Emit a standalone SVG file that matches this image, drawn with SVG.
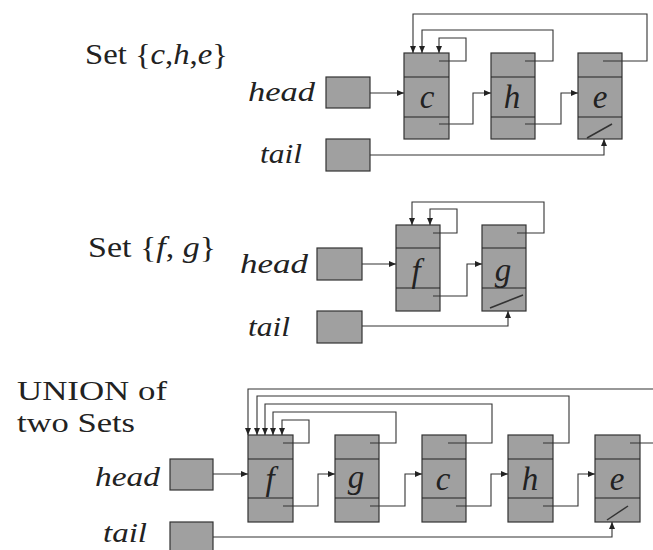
<svg xmlns="http://www.w3.org/2000/svg" width="653" height="550" viewBox="0 0 653 550">
<defs>
<marker id="ah" markerUnits="userSpaceOnUse" markerWidth="7" markerHeight="7" refX="7" refY="3.5" orient="auto">
<path d="M0,0.5 L7,3.5 L0,6.5 Z" fill="#222"/>
</marker>
</defs>
<style>
.lbl{font-family:"Liberation Serif","Times New Roman",serif;font-size:29px;fill:#222}
.un{font-family:"Liberation Serif","Times New Roman",serif;font-size:27px;fill:#222}
.it{font-family:"Liberation Serif","Times New Roman",serif;font-style:italic;font-size:28px;fill:#222}
.ltr{font-family:"Liberation Serif","Times New Roman",serif;font-style:italic;font-size:33px;fill:#222;text-anchor:middle}
.box{fill:#a0a0a0;stroke:#333;stroke-width:1.2}
.div{stroke:#222;stroke-width:1.2}
.sl{stroke:#333;stroke-width:1.5}
.con path{fill:none;stroke:#333;stroke-width:1.1}
.arr{marker-end:url(#ah)}
</style>
<rect width="653" height="550" fill="#fff"/>

<!-- labels -->
<g id="labels">
<text class="lbl" x="85" y="64" textLength="143" lengthAdjust="spacingAndGlyphs">Set {<tspan font-style="italic">c</tspan>,<tspan font-style="italic">h</tspan>,<tspan font-style="italic">e</tspan>}</text>
<text class="lbl" x="88" y="257" textLength="128" lengthAdjust="spacingAndGlyphs">Set {<tspan font-style="italic">f</tspan>, <tspan font-style="italic">g</tspan>}</text>
<text class="un" x="17" y="400" textLength="150" lengthAdjust="spacingAndGlyphs">UNION of</text>
<text class="un" x="17" y="432" textLength="118" lengthAdjust="spacingAndGlyphs">two Sets</text>
<text class="it" x="248" y="101" textLength="67" lengthAdjust="spacingAndGlyphs">head</text>
<text class="it" x="260" y="163" textLength="42" lengthAdjust="spacingAndGlyphs">tail</text>
<text class="it" x="240" y="273" textLength="68" lengthAdjust="spacingAndGlyphs">head</text>
<text class="it" x="248" y="336" textLength="42" lengthAdjust="spacingAndGlyphs">tail</text>
<text class="it" x="95" y="486" textLength="65" lengthAdjust="spacingAndGlyphs">head</text>
<text class="it" x="103" y="542" font-size="26" textLength="44" lengthAdjust="spacingAndGlyphs">tail</text>
</g>

<!-- set 1 -->
<g id="s1-head"><rect class="box" x="326" y="77" width="44" height="31"/></g>
<g id="s1-tail"><rect class="box" x="326" y="139" width="44" height="32"/></g>
<g id="s1-c"><rect class="box" x="404" y="53" width="45" height="86"/><line class="div" x1="404" y1="77" x2="449" y2="77"/><line class="div" x1="404" y1="117" x2="449" y2="117"/><text class="ltr" x="427" y="108">c</text></g>
<g id="s1-h"><rect class="box" x="491" y="53" width="44" height="86"/><line class="div" x1="491" y1="77" x2="535" y2="77"/><line class="div" x1="491" y1="117" x2="535" y2="117"/><text class="ltr" x="512" y="108">h</text></g>
<g id="s1-e"><rect class="box" x="578" y="53" width="44" height="86"/><line class="div" x1="578" y1="77" x2="622" y2="77"/><line class="div" x1="578" y1="117" x2="622" y2="117"/><text class="ltr" x="600" y="108">e</text><line class="sl" x1="587" y1="138" x2="612" y2="124"/></g>

<!-- set 2 -->
<g id="s2-head"><rect class="box" x="317" y="248" width="45" height="32"/></g>
<g id="s2-tail"><rect class="box" x="317" y="311" width="45" height="32"/></g>
<g id="s2-f"><rect class="box" x="396" y="225" width="44" height="86"/><line class="div" x1="396" y1="248" x2="440" y2="248"/><line class="div" x1="396" y1="288" x2="440" y2="288"/><text class="ltr" x="416" y="282">f</text></g>
<g id="s2-g"><rect class="box" x="482" y="225" width="44" height="86"/><line class="div" x1="482" y1="248" x2="526" y2="248"/><line class="div" x1="482" y1="288" x2="526" y2="288"/><text class="ltr" x="503" y="281">g</text><line class="sl" x1="490" y1="308" x2="523" y2="295"/></g>

<!-- union -->
<g id="u-head"><rect class="box" x="170" y="459" width="43" height="31"/></g>
<g id="u-tail"><rect class="box" x="170" y="522" width="43" height="34"/></g>
<g id="u-f"><rect class="box" x="248" y="435" width="45" height="87"/><line class="div" x1="248" y1="459" x2="293" y2="459"/><line class="div" x1="248" y1="498" x2="293" y2="498"/><text class="ltr" x="270" y="490">f</text></g>
<g id="u-g"><rect class="box" x="335" y="435" width="44" height="87"/><line class="div" x1="335" y1="459" x2="379" y2="459"/><line class="div" x1="335" y1="498" x2="379" y2="498"/><text class="ltr" x="356" y="488">g</text></g>
<g id="u-c"><rect class="box" x="422" y="435" width="44" height="87"/><line class="div" x1="422" y1="459" x2="466" y2="459"/><line class="div" x1="422" y1="498" x2="466" y2="498"/><text class="ltr" x="443" y="490">c</text></g>
<g id="u-h"><rect class="box" x="508" y="435" width="45" height="87"/><line class="div" x1="508" y1="459" x2="553" y2="459"/><line class="div" x1="508" y1="498" x2="553" y2="498"/><text class="ltr" x="530" y="490">h</text></g>
<g id="u-e"><rect class="box" x="595" y="435" width="45" height="87"/><line class="div" x1="595" y1="459" x2="640" y2="459"/><line class="div" x1="595" y1="498" x2="640" y2="498"/><text class="ltr" x="617" y="490">e</text><line class="sl" x1="607" y1="520" x2="628" y2="506"/></g>

<!-- connectors -->
<g id="connectors" class="con">
<path class="arr" d="M370,93 H404"/>
<path class="arr" d="M439,124 H473 V93 H491"/>
<path class="arr" d="M525,124 H561 V93 H578"/>
<path class="arr" d="M439,61 H466 V38 H439 V53"/>
<path class="arr" d="M525,61 H553 V30 H422 V53"/>
<path class="arr" d="M603,61 H647 V14 H413 V53"/>
<path class="arr" d="M370,155 H604 V139"/>

<path class="arr" d="M362,264 H396"/>
<path class="arr" d="M433,296 H467 V264 H482"/>
<path class="arr" d="M433,233 H457 V209 H430 V225"/>
<path class="arr" d="M517,233 H544 V202 H412 V225"/>
<path class="arr" d="M362,326 H508 V311"/>

<path class="arr" d="M213,474 H248"/>
<path class="arr" d="M283,506 H318 V474 H335"/>
<path class="arr" d="M370,506 H405 V474 H422"/>
<path class="arr" d="M456,506 H491 V474 H508"/>
<path class="arr" d="M543,506 H578 V474 H595"/>
<path class="arr" d="M283,443 H309 V420 H282 V435"/>
<path class="arr" d="M370,443 H396 V412 H273 V435"/>
<path class="arr" d="M448,443 H492 V404 H265 V435"/>
<path class="arr" d="M543,443 H569 V396 H257 V435"/>
<path class="arr" d="M630,443 H665 V389 H248 V435"/>
<path class="arr" d="M213,537 H612 V522"/>
</g>
</svg>
